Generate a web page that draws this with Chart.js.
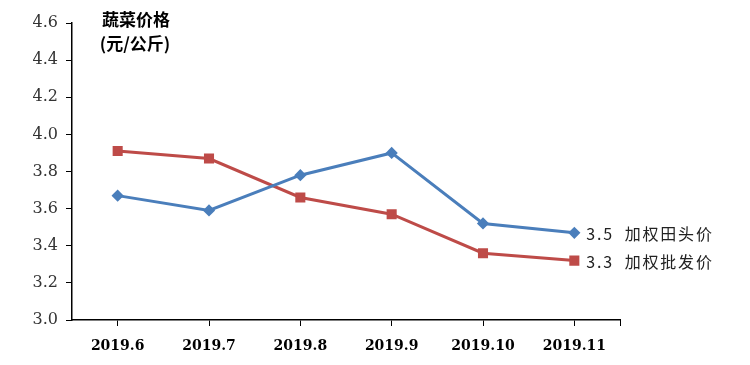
<!DOCTYPE html>
<html>
<head>
<meta charset="utf-8">
<script src="https://cdn.jsdelivr.net/npm/chart.js@4"></script>
<style>
  html, body { margin: 0; padding: 0; background: #fff; overflow: hidden; }
  canvas { display: block; }
</style>
</head>
<body>
<canvas id="priceChart" width="750" height="365"></canvas>
<script>
// Dati
const months = ['2019.6', '2019.7', '2019.8', '2019.9', '2019.10', '2019.11'];
const fieldPrice = [3.67, 3.59, 3.78, 3.90, 3.52, 3.47];      // 加权田头价
const wholesalePrice = [3.91, 3.87, 3.66, 3.57, 3.36, 3.32];  // 加权批发价
const seriesNames = ['加权田头价', '加权批发价'];
const endLabels = ['3.5', '3.3'];
const yTicks = [3.0, 3.2, 3.4, 3.6, 3.8, 4.0, 4.2, 4.4, 4.6];
const titleLines = ['蔬菜价格', '(元/公斤)'];

const blue = 'rgb(74, 126, 187)';
const red = 'rgb(190, 75, 72)';

// Titolo in alto a sinistra ed etichette a fine linea
const textPlugin = {
    id: 'textPlugin',
    afterDraw(chart) {
        const ctx = chart.ctx;
        const area = chart.chartArea;
        ctx.save();
        // tacca finale dell'asse x
        ctx.strokeStyle = '#000';
        ctx.lineWidth = 1;
        ctx.beginPath();
        ctx.moveTo(area.right + 0.5, area.bottom);
        ctx.lineTo(area.right + 0.5, area.bottom + 6);
        ctx.stroke();

        ctx.fillStyle = '#000';
        ctx.textAlign = 'center';
        ctx.textBaseline = 'middle';
        ctx.font = 'bold 17px "Noto Sans CJK SC"';
        ctx.fillText(titleLines[0], 136, 20);
        ctx.fillText(titleLines[1], 135, 44);

        ctx.textAlign = 'left';
        ctx.font = '16px "Noto Sans CJK SC"';
        chart.data.datasets.forEach((ds, i) => {
            const meta = chart.getDatasetMeta(i);
            const pt = meta.data[meta.data.length - 1];
            const txt = endLabels[i] + '  ' + seriesNames[i];
            ctx.fillStyle = '#222';
            ctx.letterSpacing = '1.8px';
            ctx.fillText(txt, pt.x + 12, pt.y + 1);
        });
        ctx.restore();
    }
};

const ctx = document.getElementById('priceChart').getContext('2d');
const myChart = new Chart(ctx, {
    type: 'line',
    data: {
        labels: months,
        datasets: [
            {
                label: seriesNames[0],
                data: fieldPrice,
                borderColor: blue,
                backgroundColor: blue,
                borderWidth: 3,
                pointStyle: 'rectRot',
                pointRadius: 4,
                pointHoverRadius: 4,
                tension: 0
            },
            {
                label: seriesNames[1],
                data: wholesalePrice,
                borderColor: red,
                backgroundColor: red,
                borderWidth: 3,
                pointStyle: 'rect',
                pointRadius: 5,
                pointHoverRadius: 5,
                tension: 0
            }
        ]
    },
    options: {
        responsive: false,
        animation: false,
        devicePixelRatio: 1,
        layout: { padding: { top: 23, right: 130, left: 0, bottom: 0 } },
        plugins: {
            legend: { display: false },
            tooltip: { enabled: false }
        },
        scales: {
            x: {
                offset: true,
                afterFit(scale) { scale.height = 45; },
                grid: {
                    offset: false,
                    drawOnChartArea: false,
                    tickLength: 6,
                    color: '#000'
                },
                border: { color: '#000', width: 1.5 },
                ticks: {
                    color: '#000',
                    padding: 12,
                    autoSkip: false,
                    maxRotation: 0,
                    font: { family: 'DejaVu Serif', size: 14, weight: 'bold' }
                }
            },
            y: {
                min: 3.0,
                max: 4.6,
                afterFit(scale) { scale.width = 72; },
                afterBuildTicks(scale) {
                    scale.ticks = yTicks.map(v => ({ value: v }));
                },
                grid: {
                    drawOnChartArea: false,
                    tickLength: 6,
                    color: '#000'
                },
                border: { color: '#000', width: 1.5 },
                ticks: {
                    color: '#333',
                    padding: 8,
                    font: { family: 'DejaVu Serif', size: 16 },
                    callback: v => Number(v).toFixed(1)
                }
            }
        }
    },
    plugins: [textPlugin]
});
</script>
</body>
</html>
